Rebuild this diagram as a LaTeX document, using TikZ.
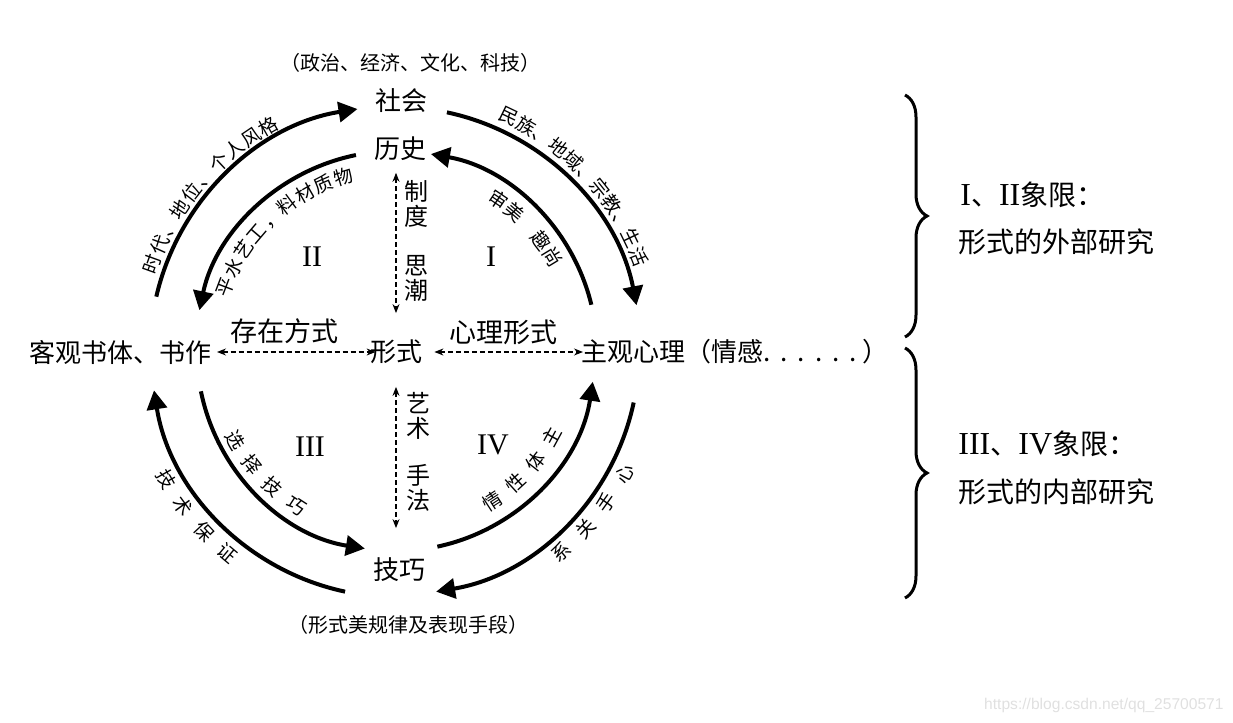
\documentclass[tikz,border=0pt]{standalone}
\usepackage{fontspec}
\setmainfont{Noto Sans CJK SC}
\newfontfamily\romfont{Liberation Serif}
\newfontfamily\urlfont{Liberation Sans}
\usetikzlibrary{arrows.meta,decorations.text,decorations.pathreplacing}

\begin{document}
\begin{tikzpicture}[x=0.5pt,y=0.5pt,
    lbl/.style={inner sep=1pt,font=\fontsize{13}{14}\selectfont},
    mid/.style={inner sep=1pt,font=\fontsize{13.5}{15}\selectfont},
    small/.style={inner sep=1pt,font=\fontsize{10}{12}\selectfont},
    vert/.style={inner sep=0pt,align=center,font=\fontsize{12}{12.5}\selectfont},
    num/.style={inner sep=0pt,font=\romfont\fontsize{15}{16}\selectfont},
    side/.style={anchor=west,inner sep=0pt,font=\fontsize{14}{16}\selectfont},
    bigarr/.style={-{Triangle[length=9.5pt,width=10pt]},line width=2pt},
    dasharr/.style={{Stealth[length=4.5pt,width=3.5pt]}-{Stealth[length=4.5pt,width=3.5pt]},
      dash pattern=on 2.5pt off 1.5pt,line width=0.6pt},
    arctext/.style={decorate,decoration={text along path,text align=fit to path,
      text={|\fontsize{9.5}{10}\selectfont|#1}}},
    curly/.style={decorate,decoration={brace,amplitude=11pt},line width=1.5pt}
  ]
  \useasboundingbox (0,0) rectangle (1233,723);

  % the four poles round the centre
  \node[lbl] (xingshi) at (396,371) {形式};
  \node[lbl] (shehui) at (401,622) {社会};
  \node[lbl] (lishi) at (400,574) {历史};
  \node[small] (zhengzhi) at (410,660) {（政治、经济、文化、科技）};
  \node[lbl,anchor=east] (keguan) at (214,371) {客观书体、书作};
  \node[lbl,anchor=west] (zhuguan) at (579,371)
    {主观心理（情感.\kern5pt.\kern5pt.\kern5pt.\kern5pt.\kern5pt.\kern3pt）};
  \node[lbl] (jiqiao) at (399,153) {技巧};
  \node[small] (guilv) at (408,98) {（形式美规律及表现手段）};

  % axis labels
  \node[mid] (cunzai) at (284,392) {存在方式};
  \node[mid] (xinli) at (503,391) {心理形式};
  \node[vert] (zhidu) at (416,519) {制\\度};
  \node[vert] (sichao) at (416,445) {思\\潮};
  \node[vert] (yishu) at (418,307) {艺\\术};
  \node[vert] (shoufa) at (418,235) {手\\法};

  % quadrants
  \node[num] (q1) at (491,466) {I};
  \node[num] (q2) at (312,466) {II};
  \node[num] (q3) at (310,276) {III};
  \node[num] (q4) at (493,278) {IV};

  % dashed axes
  \draw[dasharr,shorten <=1.5pt,shorten >=-4pt] (keguan) -- (xingshi);
  \draw[dasharr,shorten <=5pt,shorten >=-2pt] (xingshi) -- (zhuguan);
  \draw[dasharr,shorten <=4.75pt,shorten >=12.25pt] (xingshi.north |- lishi.south) -- (xingshi.north);
  \draw[dasharr,shorten <=10.25pt,shorten >=13.75pt] (xingshi.south) -- (xingshi.south |- jiqiao.north);

  % outer and inner arcs
  \draw[bigarr] ([shift={(167:246)}]xingshi.center) arc[start angle=167,end angle=99,radius=246];
  \draw[bigarr] ([shift={(101.5:201)}]xingshi.center) arc[start angle=101.5,end angle=168,radius=201];
  \draw[bigarr] ([shift={(78:245)}]xingshi.center) arc[start angle=78,end angle=11,radius=245];
  \draw[bigarr] ([shift={(13.6:201)}]xingshi.center) arc[start angle=13.6,end angle=80,radius=201];
  \draw[bigarr] ([shift={(258:245)}]xingshi.center) arc[start angle=258,end angle=189,radius=245];
  \draw[bigarr] ([shift={(191.4:199)}]xingshi.center) arc[start angle=191.4,end angle=261,radius=199];
  \draw[bigarr] ([shift={(-12:243)}]xingshi.center) arc[start angle=-12,end angle=-80.5,radius=243];
  \draw[bigarr] ([shift={(-78:199)}]xingshi.center) arc[start angle=-78,end angle=-8.6,radius=199];

  % words along the arcs
  \path[arctext={时代、地位、个人风格}] ([shift={(162.3:252)}]xingshi.center) arc[start angle=162.3,end angle=117.3,radius=252];
  \path[arctext={平水艺工，料材质物}] ([shift={(162.3:176)}]xingshi.center) arc[start angle=162.3,end angle=103.7,radius=176];
  \path[arctext={民族、地域、宗教、生活}] ([shift={(66.5:254)}]xingshi.center) arc[start angle=66.5,end angle=20.9,radius=254];
  \path[arctext={审美　趣尚}] ([shift={(59.1:176)}]xingshi.center) arc[start angle=59.1,end angle=29.3,radius=176];
  \path[arctext={技术保证}] ([shift={(206.9:270)}]xingshi.center) arc[start angle=206.9,end angle=232.1,radius=270];
  \path[arctext={选择技巧}] ([shift={(205.9:190)}]xingshi.center) arc[start angle=205.9,end angle=239.9,radius=190];
  \path[arctext={情性体主}] ([shift={(-60:185)}]xingshi.center) arc[start angle=-60,end angle=-25.6,radius=185];
  \path[arctext={系关手心}] ([shift={(-52.5:266)}]xingshi.center) arc[start angle=-52.5,end angle=-26,radius=266];

  % braces on the right
  \draw[curly] (905,628) -- (905,386);
  \draw[curly] (905,375) -- (905,125);
  \node[side] (q12) at (960,528) {{\romfont\fontsize{16}{16}\selectfont I}、{\romfont\fontsize{16}{16}\selectfont II}象限：};
  \node[side] (waibu) at (958,481) {形式的外部研究};
  \node[side] (q34) at (958,279) {{\romfont\fontsize{16}{16}\selectfont III}、{\romfont\fontsize{16}{16}\selectfont IV}象限：};
  \node[side] (neibu) at (958,231) {形式的内部研究};

  \node[anchor=east,inner sep=0pt,text=black!12,font=\urlfont\fontsize{7.8}{9}\selectfont] (wm) at (1224,18) {https://blog.csdn.net/qq\_25700571};
\end{tikzpicture}
\end{document}
